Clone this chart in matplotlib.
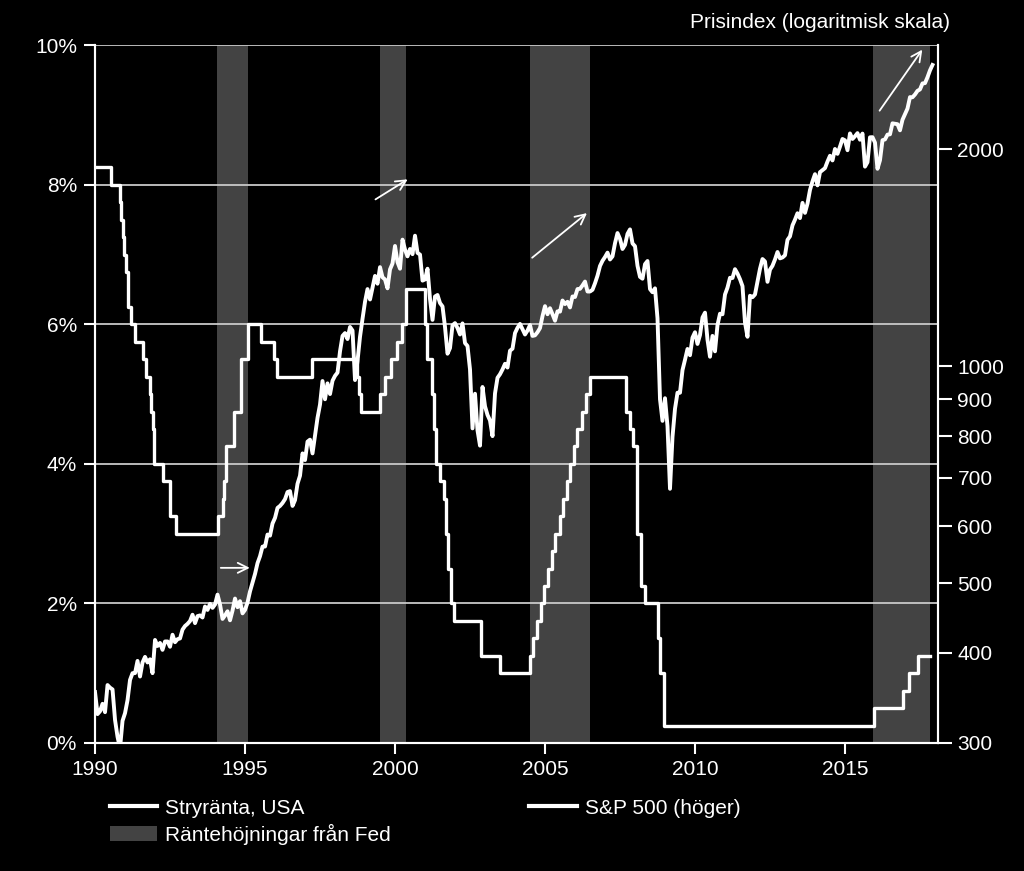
import matplotlib.pyplot as plt
from matplotlib.patches import Patch
from matplotlib.lines import Line2D
import numpy as np

plt.rcParams['font.family'] = ['Liberation Sans', 'DejaVu Sans']

# styrränta (Fed funds target), datum för ändring i decimalår
fed_datum = [1990.0, 1990.54, 1990.83, 1990.87, 1990.93, 1990.97, 1991.02, 1991.09, 1991.19, 1991.33,
             1991.59, 1991.71, 1991.83, 1991.85, 1991.92, 1991.97, 1992.27, 1992.5, 1992.69,
             1994.09, 1994.25, 1994.3, 1994.38, 1994.62, 1994.87, 1995.09, 1995.52, 1995.97, 1996.08,
             1997.24, 1998.74, 1998.79, 1998.88, 1999.5, 1999.65, 1999.88, 2000.08, 2000.22, 2000.38,
             2001.01, 2001.08, 2001.22, 2001.3, 2001.38, 2001.49, 2001.64, 2001.71, 2001.76, 2001.85,
             2001.95, 2002.85, 2003.49, 2004.49, 2004.61, 2004.72, 2004.86, 2004.96, 2005.09, 2005.22,
             2005.34, 2005.49, 2005.61, 2005.72, 2005.84, 2005.96, 2006.08, 2006.22, 2006.36, 2006.49,
             2007.71, 2007.83, 2007.95, 2008.06, 2008.08, 2008.21, 2008.33, 2008.77, 2008.83, 2008.96,
             2015.96, 2016.92, 2017.15, 2017.42, 2017.85]
fed_ranta = [8.25, 8.0, 7.75, 7.5, 7.25, 7.0, 6.75, 6.25, 6.0, 5.75,
             5.5, 5.25, 5.0, 4.75, 4.5, 4.0, 3.75, 3.25, 3.0,
             3.25, 3.5, 3.75, 4.25, 4.75, 5.5, 6.0, 5.75, 5.5, 5.25,
             5.5, 5.25, 5.0, 4.75, 5.0, 5.25, 5.5, 5.75, 6.0, 6.5,
             6.0, 5.5, 5.0, 4.5, 4.0, 3.75, 3.5, 3.0, 2.5, 2.0,
             1.75, 1.25, 1.0, 1.25, 1.5, 1.75, 2.0, 2.25, 2.5, 2.75,
             3.0, 3.25, 3.5, 3.75, 4.0, 4.25, 4.5, 4.75, 5.0, 5.25,
             4.75, 4.5, 4.25, 3.5, 3.0, 2.25, 2.0, 1.5, 1.0, 0.25,
             0.5, 0.75, 1.0, 1.25, 1.25]

# S&P 500, månadsvärden dec 1989 - nov 2017
sp500 = [353,
    329, 332, 340, 331, 361, 358, 356, 323, 306, 295, 322, 330,
    344, 367, 375, 375, 390, 371, 388, 395, 388, 392, 375, 417,
    409, 413, 404, 415, 415, 408, 424, 414, 418, 419, 431, 436,
    439, 443, 452, 440, 450, 451, 448, 464, 459, 468, 462, 467,
    482, 467, 446, 451, 457, 444, 458, 476, 463, 472, 454, 459,
    470, 487, 501, 515, 533, 545, 562, 562, 584, 582, 605, 616,
    636, 640, 646, 654, 669, 671, 640, 652, 687, 705, 757, 741,
    786, 791, 757, 801, 848, 885, 954, 900, 947, 915, 955, 970,
    980, 1049, 1102, 1112, 1091, 1134, 1121, 957, 1017, 1099, 1164, 1229,
    1280, 1238, 1286, 1335, 1302, 1373, 1329, 1320, 1283, 1363, 1389, 1469,
    1395, 1366, 1499, 1452, 1421, 1455, 1431, 1518, 1437, 1429, 1315, 1320,
    1366, 1240, 1160, 1250, 1256, 1224, 1211, 1134, 1041, 1060, 1140, 1148,
    1130, 1107, 1147, 1077, 1067, 990, 820, 916, 815, 776, 936, 880,
    856, 841, 800, 917, 964, 975, 990, 1008, 996, 1051, 1058, 1112,
    1131, 1145, 1126, 1107, 1121, 1141, 1102, 1104, 1115, 1130, 1174, 1212,
    1181, 1204, 1181, 1157, 1192, 1191, 1234, 1220, 1229, 1207, 1250, 1248,
    1280, 1281, 1295, 1311, 1270, 1270, 1277, 1304, 1336, 1378, 1401, 1418,
    1438, 1407, 1421, 1482, 1531, 1503, 1455, 1474, 1527, 1549, 1481, 1468,
    1379, 1331, 1323, 1386, 1400, 1280, 1267, 1283, 1166, 900, 840, 903,
    826, 676, 798, 873, 919, 919, 988, 1021, 1057, 1036, 1096, 1115,
    1074, 1105, 1169, 1187, 1089, 1031, 1102, 1049, 1141, 1183, 1181, 1258,
    1286, 1327, 1326, 1364, 1345, 1321, 1292, 1150, 1099, 1253, 1247, 1258,
    1312, 1366, 1409, 1398, 1310, 1362, 1379, 1407, 1441, 1412, 1416, 1426,
    1498, 1515, 1569, 1598, 1631, 1606, 1686, 1633, 1682, 1757, 1806, 1848,
    1783, 1860, 1872, 1884, 1924, 1960, 1931, 2003, 1972, 2018, 2068, 2059,
    1995, 2105, 2068, 2086, 2107, 2063, 2104, 1893, 1920, 2079, 2080, 2044,
    1880, 1932, 2060, 2065, 2097, 2099, 2174, 2171, 2168, 2126, 2199, 2239,
    2279, 2364, 2363, 2384, 2412, 2423, 2470, 2472, 2519, 2575, 2620]
sp_datum = 1990 + np.arange(len(sp500)) / 12

# perioder med räntehöjningar
hojning_start = [1994.08, 1999.5, 2004.5, 2015.95]
hojning_slut = [1995.1, 2000.38, 2006.5, 2017.85]

fig = plt.figure(figsize=(10.24, 8.71), dpi=100, facecolor='black')
ax = fig.add_axes([0.0928, 0.147, 0.8232, 0.801])
ax.set_facecolor('black')
ax2 = ax.twinx()

for s, e in zip(hojning_start, hojning_slut):
    ax.axvspan(s, e, color='#434343', lw=0, zorder=0)

for y in [2, 4, 6, 8, 10]:
    ax.axhline(y, color='#c8c8c8', lw=1.3, zorder=1)

ax.plot(fed_datum, fed_ranta, color='white', lw=2.4, drawstyle='steps-post', zorder=3)
ax2.plot(sp_datum, sp500, color='white', lw=2.8, zorder=3)

ax.set_xlim(1990, 2018.1)
ax.set_ylim(0, 10)
ax.set_yticks([0, 2, 4, 6, 8, 10])
ax.set_yticklabels(['0%', '2%', '4%', '6%', '8%', '10%'])
ax.set_xticks([1990, 1995, 2000, 2005, 2010, 2015])

ax2.set_yscale('log')
ax2.set_ylim(300, 2790)
ax2.set_yticks([300, 400, 500, 600, 700, 800, 900, 1000, 2000])
ax2.set_yticklabels(['300', '400', '500', '600', '700', '800', '900', '1000', '2000'])
ax2.yaxis.set_minor_locator(plt.NullLocator())

for a in (ax, ax2):
    a.spines['top'].set_visible(False)
    for side in ['left', 'bottom', 'right']:
        a.spines[side].set_color('white')
        a.spines[side].set_linewidth(1.5)
    a.tick_params(colors='white', labelsize=15, width=1.5, length=8, direction='out')
ax.tick_params(axis='y', pad=5)
ax.tick_params(axis='x', pad=4)
ax2.tick_params(axis='y', pad=4, length=10)

# pilar
pilar = [((1994.1, 2.51), (1995.25, 2.51)),
         ((1999.27, 7.77), (2000.5, 8.1)),
         ((2004.5, 6.93), (2006.47, 7.62)),
         ((2016.1, 9.03), (2017.63, 9.97))]
for start, slut in pilar:
    ax.annotate('', xy=slut, xytext=start,
                arrowprops=dict(arrowstyle='->', color='white', lw=1.3, mutation_scale=18), zorder=4)

fig.text(0.928, 0.974, 'Prisindex (logaritmisk skala)', color='white', fontsize=15,
         ha='right', va='center')

h1 = Line2D([], [], color='white', lw=3)
h2 = Patch(facecolor='#434343', edgecolor='none')
h3 = Line2D([], [], color='white', lw=3)
fig.legend([h1, h2], ['Stryränta, USA', 'Räntehöjningar från Fed'], loc='upper left',
           bbox_to_anchor=(0.107, 0.083), frameon=False, fontsize=15,
           labelcolor='white', handlelength=2.3, handletextpad=0.35, labelspacing=0.3,
           borderpad=0, borderaxespad=0)
fig.legend([h3], ['S&P 500 (höger)'], loc='upper left', bbox_to_anchor=(0.517, 0.083),
           frameon=False, fontsize=15, labelcolor='white', handlelength=2.3,
           handletextpad=0.35, borderpad=0, borderaxespad=0)

fig.savefig('out.png', dpi=100, facecolor='black')
